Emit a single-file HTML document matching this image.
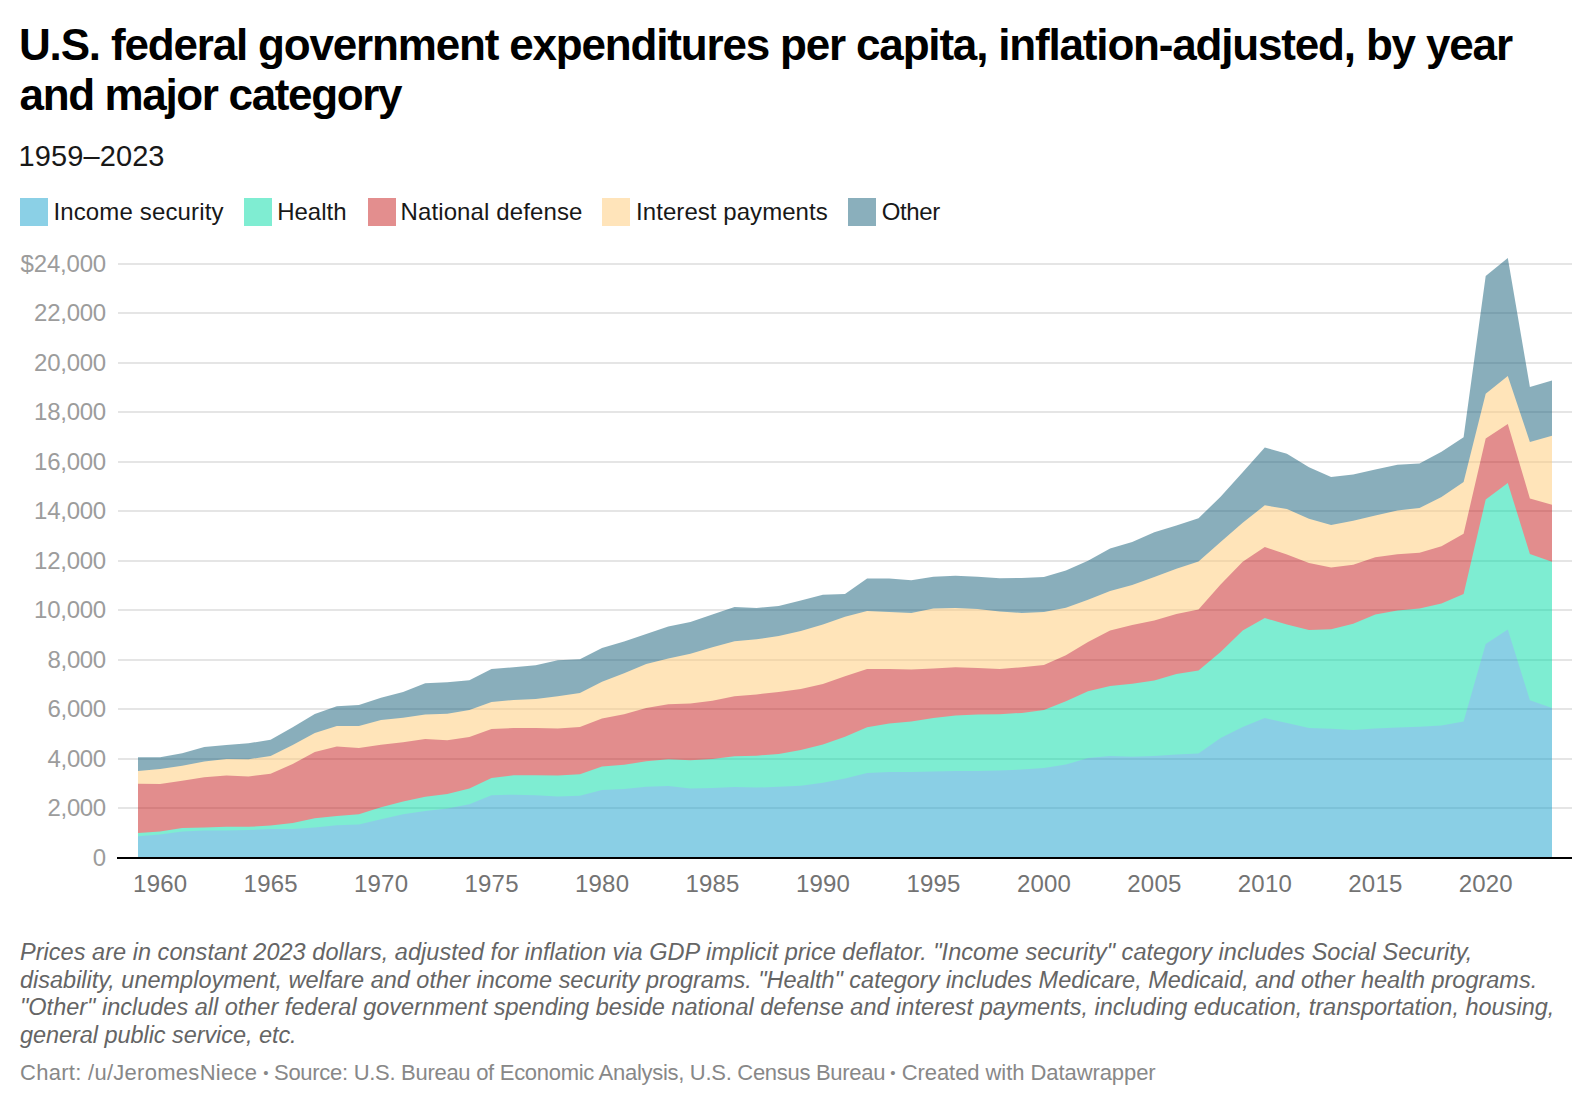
<!DOCTYPE html>
<html lang="en"><head><meta charset="utf-8"><title>U.S. federal government expenditures per capita</title>
<style>
html,body{margin:0;padding:0;background:#fff;}
body{width:1592px;height:1106px;overflow:hidden;font-family:"Liberation Sans",Arial,sans-serif;}
svg{display:block;}
text{font-family:"Liberation Sans",Arial,sans-serif;}
.ttl{font-size:44px;font-weight:bold;fill:#000;}
.sub{font-size:29px;fill:#181818;}
.lg{font-size:24px;fill:#181818;}
.yl text{font-size:24px;fill:#9c9c9c;text-anchor:end;}
.xl text{font-size:24px;fill:#737373;text-anchor:middle;}
.nt{font-size:23.5px;font-style:italic;fill:#656565;}
.ft{font-size:22px;fill:#888;}
.grid rect{fill:#e5e5e5;}
</style></head><body>
<svg width="1592" height="1106" viewBox="0 0 1592 1106">
<rect width="1592" height="1106" fill="#fff"/>
<text class="ttl" x="19" y="59.8" textLength="1494">U.S. federal government expenditures per capita, inflation-adjusted, by year</text>
<text class="ttl" x="19.5" y="110.2" textLength="383">and major category</text>
<text class="sub" x="18.5" y="165.9" textLength="146">1959–2023</text>
<g><rect x="20" y="198" width="28" height="28" fill="#18a1cd" fill-opacity="0.5"/><text class="lg" x="53.4" y="220" textLength="170.1">Income security</text><rect x="244" y="198" width="28" height="28" fill="#00dca6" fill-opacity="0.5"/><text class="lg" x="277.2" y="220" textLength="69.3">Health</text><rect x="368" y="198" width="28" height="28" fill="#c71e1d" fill-opacity="0.5"/><text class="lg" x="400.5" y="220" textLength="181.9">National defense</text><rect x="602" y="198" width="28" height="28" fill="#ffca76" fill-opacity="0.5"/><text class="lg" x="636.1" y="220" textLength="191.6">Interest payments</text><rect x="848" y="198" width="28" height="28" fill="#15607a" fill-opacity="0.5"/><text class="lg" x="881.8" y="220" textLength="58.4">Other</text></g>
<g class="grid"><rect x="118" y="263" width="1454" height="2"/><rect x="118" y="312" width="1454" height="2"/><rect x="118" y="362" width="1454" height="2"/><rect x="118" y="411" width="1454" height="2"/><rect x="118" y="461" width="1454" height="2"/><rect x="118" y="510" width="1454" height="2"/><rect x="118" y="560" width="1454" height="2"/><rect x="118" y="609" width="1454" height="2"/><rect x="118" y="659" width="1454" height="2"/><rect x="118" y="708" width="1454" height="2"/><rect x="118" y="758" width="1454" height="2"/><rect x="118" y="807" width="1454" height="2"/></g>
<g class="areas" opacity="0.5"><path d="M138.0,757.2 L160.1,757.2 L182.2,753.2 L204.3,747.1 L226.4,745.1 L248.5,743.3 L270.6,739.8 L292.7,727.3 L314.8,713.9 L336.8,706.3 L358.9,705.1 L381.0,697.7 L403.1,692.1 L425.2,683.3 L447.3,682.3 L469.4,680.2 L491.5,669.1 L513.6,667.3 L535.7,665.3 L557.8,660.2 L579.9,659.2 L602.0,647.9 L624.1,641.5 L646.2,633.9 L668.3,626.6 L690.4,622.0 L712.4,614.4 L734.5,607.1 L756.6,607.9 L778.7,606.1 L800.8,600.5 L822.9,594.7 L845.0,593.9 L867.1,578.5 L889.2,578.5 L911.3,580.2 L933.4,576.7 L955.5,575.7 L977.6,576.7 L999.7,578.2 L1021.8,578.0 L1043.9,577.0 L1065.9,570.6 L1088.0,560.8 L1110.1,548.4 L1132.2,542.1 L1154.3,532.3 L1176.4,525.6 L1198.5,518.2 L1220.6,496.8 L1242.7,472.3 L1264.8,447.5 L1286.9,453.8 L1309.0,467.2 L1331.1,477.1 L1353.2,474.6 L1375.3,469.5 L1397.4,464.7 L1419.5,463.4 L1441.5,451.8 L1463.6,437.3 L1485.7,276.1 L1507.8,258.1 L1529.9,387.0 L1552.0,380.6 L1552.0,857.0 L138.0,857.0 Z" fill="#15607a"/><path d="M138.0,770.9 L160.1,768.9 L182.2,765.8 L204.3,761.5 L226.4,759.0 L248.5,759.2 L270.6,756.0 L292.7,745.1 L314.8,732.9 L336.8,726.1 L358.9,726.1 L381.0,720.0 L403.1,717.7 L425.2,714.4 L447.3,713.7 L469.4,709.9 L491.5,702.0 L513.6,700.0 L535.7,699.0 L557.8,696.2 L579.9,692.9 L602.0,681.8 L624.1,673.2 L646.2,664.0 L668.3,658.5 L690.4,653.7 L712.4,647.3 L734.5,641.3 L756.6,639.2 L778.7,636.0 L800.8,630.9 L822.9,624.6 L845.0,616.7 L867.1,610.9 L889.2,612.1 L911.3,612.9 L933.4,608.4 L955.5,608.1 L977.6,609.1 L999.7,611.4 L1021.8,612.9 L1043.9,612.1 L1065.9,607.8 L1088.0,599.7 L1110.1,591.1 L1132.2,584.9 L1154.3,576.9 L1176.4,568.7 L1198.5,561.5 L1220.6,542.1 L1242.7,522.8 L1264.8,505.3 L1286.9,508.9 L1309.0,518.7 L1331.1,525.1 L1353.2,520.8 L1375.3,515.4 L1397.4,510.4 L1419.5,507.9 L1441.5,497.0 L1463.6,482.0 L1485.7,393.8 L1507.8,376.1 L1529.9,441.9 L1552.0,435.8 L1552.0,857.0 L138.0,857.0 Z" fill="#ffca76"/><path d="M138.0,783.8 L160.1,784.0 L182.2,780.8 L204.3,777.2 L226.4,775.4 L248.5,776.5 L270.6,773.7 L292.7,764.0 L314.8,752.1 L336.8,746.6 L358.9,748.1 L381.0,744.8 L403.1,742.3 L425.2,739.0 L447.3,740.2 L469.4,737.0 L491.5,728.9 L513.6,728.1 L535.7,728.1 L557.8,728.6 L579.9,727.1 L602.0,718.5 L624.1,714.2 L646.2,708.1 L668.3,704.3 L690.4,703.5 L712.4,700.8 L734.5,696.2 L756.6,694.4 L778.7,691.9 L800.8,689.1 L822.9,684.0 L845.0,676.2 L867.1,669.1 L889.2,668.9 L911.3,669.4 L933.4,668.4 L955.5,667.3 L977.6,667.9 L999.7,668.9 L1021.8,667.3 L1043.9,665.1 L1065.9,655.3 L1088.0,642.0 L1110.1,630.4 L1132.2,624.9 L1154.3,620.6 L1176.4,613.9 L1198.5,609.4 L1220.6,584.5 L1242.7,561.7 L1264.8,546.9 L1286.9,554.5 L1309.0,563.0 L1331.1,567.4 L1353.2,564.8 L1375.3,557.2 L1397.4,554.2 L1419.5,552.7 L1441.5,546.3 L1463.6,533.7 L1485.7,438.6 L1507.8,423.9 L1529.9,498.4 L1552.0,504.7 L1552.0,857.0 L138.0,857.0 Z" fill="#c71e1d"/><path d="M138.0,832.9 L160.1,831.6 L182.2,828.1 L204.3,827.6 L226.4,826.8 L248.5,826.8 L270.6,825.6 L292.7,823.0 L314.8,818.2 L336.8,816.0 L358.9,814.2 L381.0,807.3 L403.1,801.5 L425.2,796.7 L447.3,793.9 L469.4,788.4 L491.5,778.0 L513.6,775.2 L535.7,775.2 L557.8,775.4 L579.9,774.2 L602.0,766.6 L624.1,764.8 L646.2,761.3 L668.3,759.2 L690.4,760.2 L712.4,759.0 L734.5,756.2 L756.6,755.7 L778.7,753.9 L800.8,750.1 L822.9,744.6 L845.0,736.7 L867.1,727.3 L889.2,723.5 L911.3,721.5 L933.4,718.0 L955.5,715.4 L977.6,714.4 L999.7,714.2 L1021.8,712.9 L1043.9,710.1 L1065.9,701.3 L1088.0,691.2 L1110.1,686.1 L1132.2,683.8 L1154.3,680.4 L1176.4,673.9 L1198.5,670.5 L1220.6,651.9 L1242.7,630.6 L1264.8,618.1 L1286.9,624.5 L1309.0,630.1 L1331.1,629.3 L1353.2,623.8 L1375.3,614.4 L1397.4,610.4 L1419.5,608.6 L1441.5,603.5 L1463.6,593.9 L1485.7,499.5 L1507.8,483.0 L1529.9,553.9 L1552.0,561.8 L1552.0,857.0 L138.0,857.0 Z" fill="#00dca6"/><path d="M138.0,836.2 L160.1,834.4 L182.2,831.4 L204.3,830.6 L226.4,830.6 L248.5,830.1 L270.6,828.9 L292.7,828.9 L314.8,827.6 L336.8,825.3 L358.9,824.6 L381.0,819.2 L403.1,814.2 L425.2,811.1 L447.3,808.6 L469.4,804.3 L491.5,795.2 L513.6,794.7 L535.7,795.2 L557.8,796.5 L579.9,795.7 L602.0,789.9 L624.1,789.1 L646.2,786.8 L668.3,786.1 L690.4,788.6 L712.4,788.1 L734.5,787.1 L756.6,787.6 L778.7,786.8 L800.8,785.8 L822.9,782.8 L845.0,778.5 L867.1,772.9 L889.2,772.1 L911.3,772.1 L933.4,771.6 L955.5,771.1 L977.6,771.1 L999.7,770.4 L1021.8,769.6 L1043.9,767.9 L1065.9,764.6 L1088.0,758.0 L1110.1,756.1 L1132.2,756.8 L1154.3,755.9 L1176.4,754.5 L1198.5,753.6 L1220.6,737.9 L1242.7,727.0 L1264.8,718.1 L1286.9,723.0 L1309.0,728.0 L1331.1,728.7 L1353.2,729.9 L1375.3,728.4 L1397.4,727.6 L1419.5,726.8 L1441.5,725.6 L1463.6,721.5 L1485.7,644.0 L1507.8,629.4 L1529.9,700.2 L1552.0,707.9 L1552.0,857.0 L138.0,857.0 Z" fill="#18a1cd"/></g>
<rect x="117" y="857" width="1455" height="2" fill="#000"/>
<g class="yl"><text x="106.2" y="272.0" textLength="85.6">$24,000</text><text x="106.2" y="321.0" textLength="72.1">22,000</text><text x="106.2" y="371.0" textLength="72.1">20,000</text><text x="106.2" y="420.0" textLength="72.1">18,000</text><text x="106.2" y="470.0" textLength="72.1">16,000</text><text x="106.2" y="519.0" textLength="72.1">14,000</text><text x="106.2" y="569.0" textLength="72.1">12,000</text><text x="106.2" y="618.0" textLength="72.1">10,000</text><text x="106.2" y="668.0" textLength="58.6">8,000</text><text x="106.2" y="717.0" textLength="58.6">6,000</text><text x="106.2" y="767.0" textLength="58.6">4,000</text><text x="106.2" y="816.0" textLength="58.6">2,000</text><text x="106.2" y="866.0" textLength="13.5">0</text></g>
<g class="xl"><text x="160.1" y="891.8" textLength="54">1960</text><text x="270.6" y="891.8" textLength="54">1965</text><text x="381.0" y="891.8" textLength="54">1970</text><text x="491.5" y="891.8" textLength="54">1975</text><text x="602.0" y="891.8" textLength="54">1980</text><text x="712.4" y="891.8" textLength="54">1985</text><text x="822.9" y="891.8" textLength="54">1990</text><text x="933.4" y="891.8" textLength="54">1995</text><text x="1043.9" y="891.8" textLength="54">2000</text><text x="1154.3" y="891.8" textLength="54">2005</text><text x="1264.8" y="891.8" textLength="54">2010</text><text x="1375.3" y="891.8" textLength="54">2015</text><text x="1485.7" y="891.8" textLength="54">2020</text></g>
<g><text class="nt" x="20" y="959.8" textLength="1452.4">Prices are in constant 2023 dollars, adjusted for inflation via GDP implicit price deflator. &quot;Income security&quot; category includes Social Security,</text><text class="nt" x="20" y="987.6" textLength="1517.2">disability, unemployment, welfare and other income security programs. &quot;Health&quot; category includes Medicare, Medicaid, and other health programs.</text><text class="nt" x="20" y="1015.3" textLength="1534.3">&quot;Other&quot; includes all other federal government spending beside national defense and interest payments, including education, transportation, housing,</text><text class="nt" x="20" y="1043.1" textLength="276.6">general public service, etc.</text></g>
<text class="ft" x="20" y="1079.8" textLength="237">Chart: /u/JeromesNiece</text>
<text class="ft" x="265.8" y="1077.6" text-anchor="middle" style="font-size:15px">•</text>
<text class="ft" x="274" y="1079.8" textLength="611.5">Source: U.S. Bureau of Economic Analysis, U.S. Census Bureau</text>
<text class="ft" x="893" y="1077.6" text-anchor="middle" style="font-size:15px">•</text>
<text class="ft" x="901.7" y="1079.8" textLength="254">Created with Datawrapper</text>
</svg>
</body></html>
